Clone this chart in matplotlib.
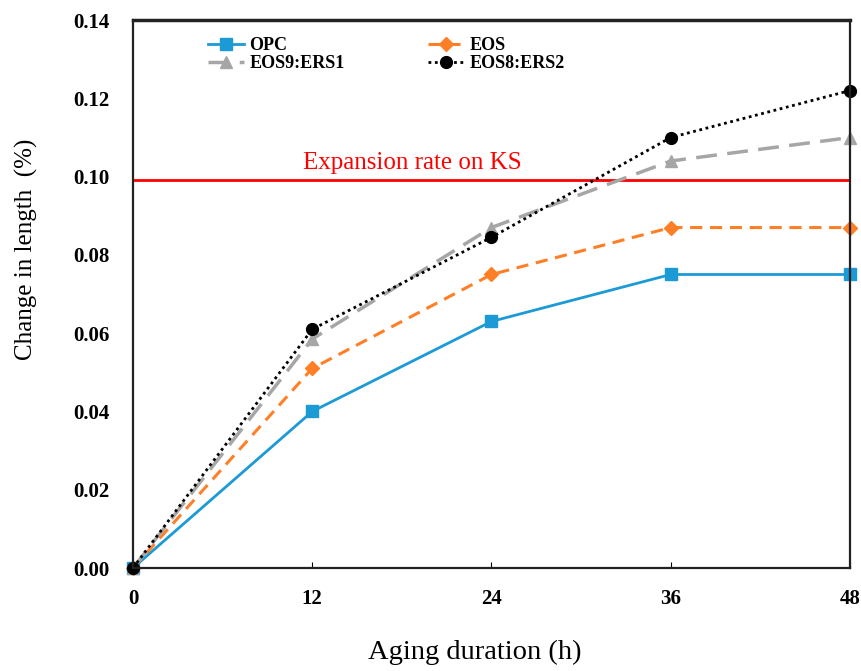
import matplotlib
matplotlib.use("Agg")
import matplotlib.pyplot as plt

# aging time (h) and change in length (%) for each mix
hours = [0, 12, 24, 36, 48]
opc = [0.0, 0.040, 0.063, 0.075, 0.075]
eos = [0.0, 0.051, 0.075, 0.087, 0.087]
eos9_ers1 = [0.0, 0.0585, 0.087, 0.104, 0.110]
eos8_ers2 = [0.0, 0.061, 0.0845, 0.110, 0.122]
ks_limit = 0.0992

plt.rcParams['font.family'] = ['Liberation Serif', 'DejaVu Serif']

fig = plt.figure(figsize=(8.62, 6.71), dpi=100)
ax = fig.add_axes([0.1543, 0.1535, 0.8317, 0.8165])

ax.axhline(ks_limit, color='#ff0000', lw=2, zorder=1)
ax.text(18.7, 0.1035, "Expansion rate on KS", color='#ff0000',
        fontsize=18, ha='center', va='center')

l1, = ax.plot(hours, opc, color='#1b9ad6', lw=2, marker='s', ms=8.5, clip_on=False)
l2, = ax.plot(hours, eos, color='#ff7f27', lw=2.2, ls=(0, (4, 2.5)), marker='D', ms=7, clip_on=False)
l3, = ax.plot(hours, eos9_ers1, color='#a6a6a6', lw=2.5, ls=(0, (6, 3)), marker='^', ms=8.5, clip_on=False)
l4, = ax.plot(hours, eos8_ers2, color='black', lw=2, ls=(0, (1, 1.3)), marker='o', ms=8.5, clip_on=False)

ax.set_xlim(0, 48)
ax.set_ylim(0, 0.14)
ax.set_xticks(hours)
ax.set_yticks([0.0, 0.02, 0.04, 0.06, 0.08, 0.10, 0.12, 0.14])
ax.set_yticklabels(['%.2f' % v for v in ax.get_yticks()])
ax.tick_params(axis='x', direction='in', length=4, pad=15, labelsize=15)
ax.tick_params(axis='y', length=0, pad=17, labelsize=15)
for lab in ax.get_xticklabels() + ax.get_yticklabels():
    lab.set_fontweight('bold')

for s in ax.spines.values():
    s.set_linewidth(1.6)
    s.set_color('#222222')
ax.spines['top'].set_linewidth(2.5)

ax.set_xlabel("Aging duration (h)", fontsize=20.5)
ax.xaxis.set_label_coords(0.477, -0.131)
ax.set_ylabel("Change in length  (%)", fontsize=18)
ax.yaxis.set_label_coords(-0.132, 0.582)

# two columns: OPC / EOS on the first row, blends on the second
ax.legend([l1, l3, l2, l4], ['OPC', 'EOS9:ERS1', 'EOS', 'EOS8:ERS2'],
          loc='upper left', bbox_to_anchor=(0.092, 0.985), ncol=2, frameon=False,
          handlelength=2.0, columnspacing=4.6, labelspacing=0.05,
          handletextpad=0.3, borderpad=0, prop={'weight': 'bold', 'size': 13})

fig.savefig("out.png", dpi=100)
